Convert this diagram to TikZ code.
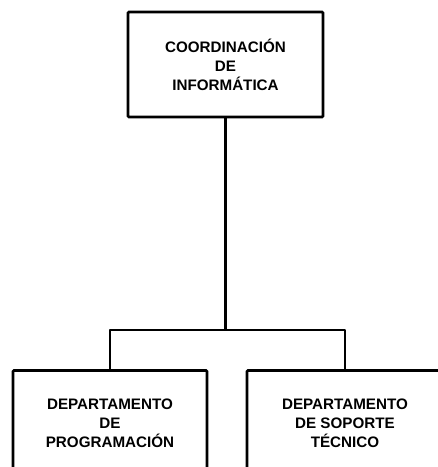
\documentclass[tikz,border=0pt]{standalone}
\usepackage{fontspec}
\setmainfont{Liberation Sans}
\begin{document}
\begin{tikzpicture}[x=1pt,y=1pt,
    unidad/.style={draw,line width=2.8pt,rounded corners=1pt,align=center,
        font=\bfseries\fontsize{15.2}{19}\selectfont,inner sep=0pt},
    enlace/.style={line width=2.8pt,line join=round}]
                \useasboundingbox (0,0) rectangle (438,467);
                \clip (0,0) rectangle (438,467);
                \node[unidad,minimum width=195pt,minimum height=105pt] (coord) at (225.5,402.5) {COORDINACIÓN\\DE\\INFORMÁTICA};
                \node[unidad,minimum width=194pt,minimum height=105pt] (prog) at (110,44) {DEPARTAMENTO\\DE\\PROGRAMACIÓN};
                \node[unidad,minimum width=196pt,minimum height=105pt] (soporte) at (345,44) {DEPARTAMENTO\\DE SOPORTE\\TÉCNICO};
                \coordinate (barra) at (coord.south |- 0,137);
                \draw[enlace] (coord.south) -- (barra);
                \draw[enlace] (prog.north) |- (barra) -| (soporte.north);
            \end{tikzpicture}
\end{document}
